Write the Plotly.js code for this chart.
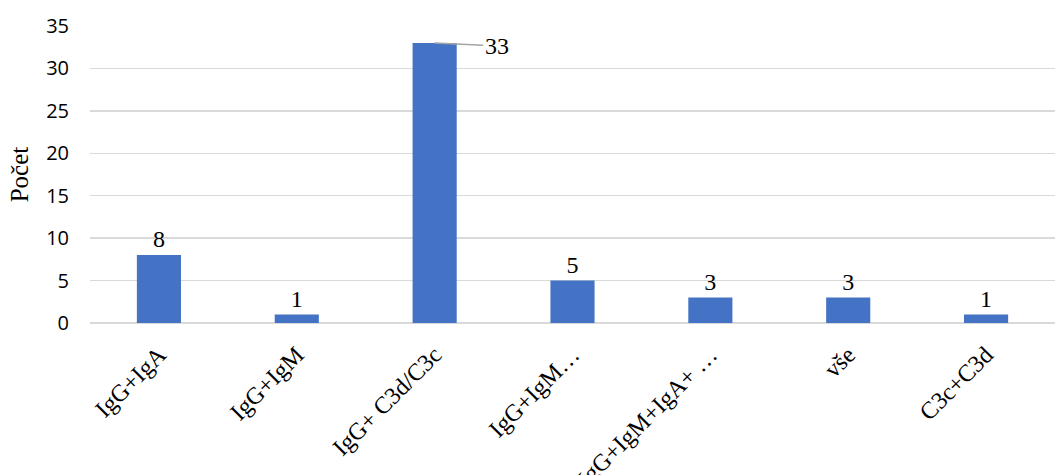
<!DOCTYPE html>
<html>
<head>
<meta charset="utf-8">
<script src="https://cdn.plot.ly/plotly-3.0.1.min.js"></script>
<style>html,body{margin:0;padding:0;background:#fff;}</style>
</head>
<body>
<div id="chart" style="width:1056px;height:475px;"></div>
<script>
const categories = ["IgG+IgA", "IgG+IgM", "IgG+ C3d/C3c", "IgG+IgM…", "IgG+IgM+IgA+ …", "vše", "C3c+C3d"];
const counts = [8, 1, 33, 5, 3, 3, 1];
const yTicks = [0, 5, 10, 15, 20, 25, 30, 35];
const movedLabelIndex = 2;

const SERIF = "Liberation Serif";
const SANS = "Open Sans";

const labelText = counts.map((v, i) => i === movedLabelIndex ? "" : String(v));

const trace = {
  type: "bar",
  x: categories,
  y: counts,
  marker: {color: "#4472C4"},
  text: labelText,
  textposition: "outside",
  textfont: {family: SERIF, size: 24, color: "#000"},
  cliponaxis: false,
  hoverinfo: "none"
};

const layout = {
  width: 1056,
  height: 475,
  margin: {l: 90, r: 1, t: 26, b: 152},
  paper_bgcolor: "#fff",
  plot_bgcolor: "#fff",
  bargap: 0.68,
  showlegend: false,
  xaxis: {
    type: "category",
    tickangle: -45,
    tickfont: {family: SERIF, size: 24, color: "#000"},
    showgrid: false,
    showline: false,
    zeroline: false,
    ticks: "",
    ticklabelstandoff: 12,
    automargin: false
  },
  yaxis: {
    range: [0, 35],
    tickvals: yTicks,
    ticktext: yTicks.map(String),
    tickfont: {family: SANS, size: 20, color: "#000"},
    showgrid: true,
    gridcolor: "#D9D9D9",
    gridwidth: 1.5,
    zeroline: true,
    zerolinecolor: "#D9D9D9",
    zerolinewidth: 1.5,
    showline: false,
    ticks: "",
    ticklabelstandoff: 20,
    title: {text: "Počet", font: {family: SERIF, size: 25, color: "#000"}, standoff: 10},
    automargin: false
  },
  annotations: [{
    x: categories[movedLabelIndex],
    y: counts[movedLabelIndex],
    text: String(counts[movedLabelIndex]),
    showarrow: true,
    arrowhead: 0,
    arrowwidth: 1.5,
    arrowcolor: "#A5A5A5",
    ax: 62,
    ay: 3,
    font: {family: SERIF, size: 24, color: "#000"}
  }]
};

Plotly.newPlot("chart", [trace], layout, {displayModeBar: false, staticPlot: true});
</script>
</body>
</html>
